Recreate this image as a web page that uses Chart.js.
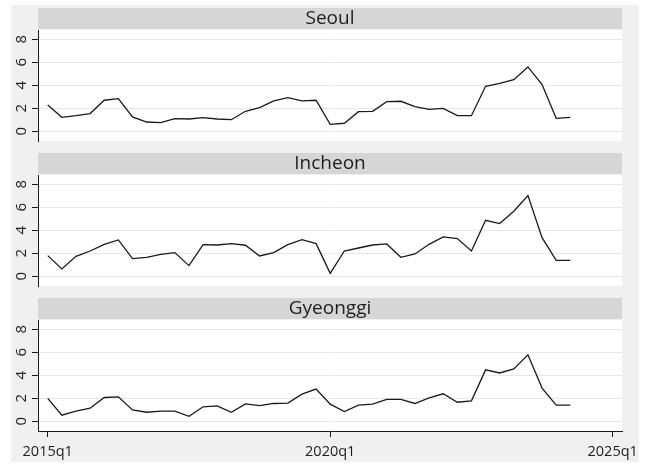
<!DOCTYPE html>
<html>
<head>
<meta charset="utf-8">
<script src="https://cdn.jsdelivr.net/npm/chart.js@4/dist/chart.umd.min.js"></script>
<style>
  html, body { margin: 0; padding: 0; background: #ffffff; }
  #wrap { position: relative; width: 649px; height: 464px; overflow: hidden; }
  #bg { position: absolute; left: 11px; top: 5px; width: 628px; height: 457px; background: #f0f0f0; }
  canvas { position: absolute; left: 0; }
</style>
</head>
<body>
<div id="wrap">
  <div id="bg"></div>
  <canvas id="p0" width="649" height="146" style="top:0px"></canvas>
  <canvas id="p1" width="649" height="146" style="top:145px"></canvas>
  <canvas id="p2" width="649" height="174" style="top:290px"></canvas>
</div>
<script>
// Quarterly periods, 2015q1 .. 2024q2
const quarters = [
  '2015q1','2015q2','2015q3','2015q4','2016q1','2016q2','2016q3','2016q4',
  '2017q1','2017q2','2017q3','2017q4','2018q1','2018q2','2018q3','2018q4',
  '2019q1','2019q2','2019q3','2019q4','2020q1','2020q2','2020q3','2020q4',
  '2021q1','2021q2','2021q3','2021q4','2022q1','2022q2','2022q3','2022q4',
  '2023q1','2023q2','2023q3','2023q4','2024q1','2024q2'
];

const regionNames = ['Seoul', 'Incheon', 'Gyeonggi'];

const seoul = [2.29,1.22,1.36,1.54,2.70,2.84,1.25,0.81,0.75,1.10,1.07,1.19,1.07,1.01,1.74,2.06,2.64,2.93,2.64,2.70,
               0.61,0.70,1.71,1.74,2.58,2.61,2.14,1.91,2.00,1.36,1.36,3.91,4.17,4.49,5.59,4.06,1.13,1.22];
const incheon = [1.80,0.64,1.74,2.20,2.78,3.16,1.54,1.65,1.91,2.06,0.93,2.75,2.72,2.84,2.70,1.77,2.06,2.75,3.19,2.84,
                 0.26,2.20,2.46,2.72,2.81,1.65,1.94,2.78,3.42,3.28,2.20,4.87,4.58,5.65,7.01,3.36,1.39,1.39];
const gyeonggi = [1.99,0.53,0.88,1.14,2.07,2.13,0.99,0.79,0.88,0.88,0.44,1.26,1.34,0.79,1.52,1.37,1.55,1.58,2.36,2.80,
                  1.49,0.85,1.40,1.49,1.90,1.90,1.55,2.04,2.39,1.66,1.78,4.47,4.20,4.55,5.78,2.89,1.40,1.40];

const yTicks = [0, 2, 4, 6, 8];
const xTickLabels = ['2015q1', '2020q1', '2025q1'];

// quarter label -> running quarter number counted from 2015q1
function quarterIndex(label) {
  const year = parseInt(label.slice(0, 4), 10);
  const q = parseInt(label.slice(5), 10);
  return (year - 2015) * 4 + (q - 1);
}
const xTickValues = xTickLabels.map(quarterIndex);

Chart.defaults.font.family = "'Open Sans', 'DejaVu Sans', sans-serif";
Chart.defaults.color = '#1e1e1e';

// white plot region and grey header strip behind the panel title
const panelBackground = {
  id: 'panelBackground',
  beforeDraw(chart) {
    const { ctx, chartArea: a } = chart;
    ctx.save();
    ctx.fillStyle = '#ffffff';
    ctx.fillRect(a.left, a.top, a.right - a.left, a.bottom - a.top);
    ctx.fillStyle = '#d6d6d6';
    ctx.fillRect(a.left, 8, a.right - a.left, a.top - 9);
    ctx.restore();
  }
};

function makePanel(canvasId, name, values, showX) {
  const points = values.map((v, i) => ({ x: quarterIndex(quarters[i]), y: v }));
  return new Chart(document.getElementById(canvasId), {
    type: 'line',
    data: {
      datasets: [{
        label: name,
        data: points,
        borderColor: '#1a1a1a',
        borderWidth: 1.3,
        pointRadius: 0,
        tension: 0,
        fill: false
      }]
    },
    options: {
      responsive: false,
      animation: false,
      events: [],
      layout: { padding: { left: 0, right: 27, top: 8, bottom: showX ? 0 : 5 } },
      plugins: {
        legend: { display: false },
        tooltip: { enabled: false },
        title: {
          display: true,
          text: name,
          fullSize: false,
          color: '#1e1e1e',
          font: { size: 19, weight: 'normal', lineHeight: 1.1 },
          padding: { top: 0, bottom: 1.1 }
        }
      },
      scales: {
        x: {
          type: 'linear',
          display: showX,
          min: -0.69,
          max: 40.66,
          afterBuildTicks: (scale) => { scale.ticks = xTickValues.map(v => ({ value: v })); },
          afterFit: (scale) => { scale.height = showX ? 33 : 0; },
          grid: { drawOnChartArea: false, tickLength: 6, tickColor: '#1a1a1a', tickWidth: 1 },
          border: { display: true, color: '#1a1a1a', width: 1 },
          ticks: {
            autoSkip: false,
            maxRotation: 0,
            padding: 6,
            font: { size: 14.5 },
            callback: (v) => {
              const k = xTickValues.indexOf(v);
              return k >= 0 ? xTickLabels[k] : '';
            }
          }
        },
        y: {
          min: -0.84,
          max: 8.8,
          afterBuildTicks: (scale) => { scale.ticks = yTicks.map(v => ({ value: v })); },
          afterFit: (scale) => {
            scale.width = 38;
            scale.paddingTop = 0;
            scale.paddingBottom = 0;
          },
          grid: { color: '#e8e8e8', lineWidth: 1, tickLength: 6, tickColor: '#1a1a1a', tickWidth: 1 },
          border: { display: true, color: '#1a1a1a', width: 1 },
          ticks: {
            minRotation: 90,
            maxRotation: 90,
            crossAlign: 'center',
            padding: 6,
            font: { size: 15 }
          }
        }
      }
    },
    plugins: [panelBackground]
  });
}

makePanel('p0', regionNames[0], seoul, false);
makePanel('p1', regionNames[1], incheon, false);
makePanel('p2', regionNames[2], gyeonggi, true);
</script>
</body>
</html>
